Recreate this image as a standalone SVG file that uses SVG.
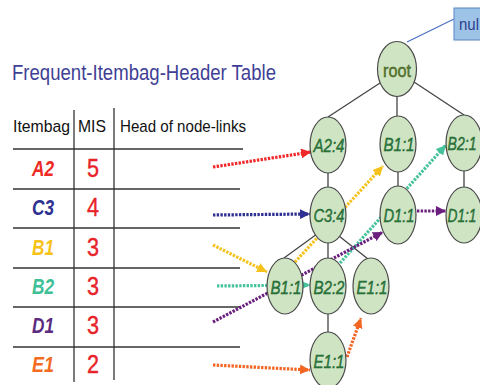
<svg xmlns="http://www.w3.org/2000/svg" width="480" height="385" viewBox="0 0 480 385">
  <style>
    .title { font-family: "Liberation Sans", Arial, sans-serif; font-size: 22px; fill: #3f3f96; }
    .hdr { font-family: "Liberation Sans", Arial, sans-serif; font-size: 17px; fill: #111; }
    .rule { stroke: #333; stroke-width: 1.3; }
    .item { font-family: "Liberation Sans", Arial, sans-serif; font-size: 22px; font-weight: bold; font-style: italic; text-anchor: middle; }
    .mis { font-family: "Liberation Sans", Arial, sans-serif; font-size: 25px; fill: #e8232a; text-anchor: middle; stroke: #e8232a; stroke-width: 0.4; }
    .node ellipse { fill: #cfe4c3; stroke: #4a4a4a; stroke-width: 1.2; }
    .node text { font-family: "Liberation Sans", Arial, sans-serif; font-size: 19px; font-style: italic; fill: #2a7a3c; stroke: #1b5a2c; stroke-width: 0.4; text-anchor: middle; }
    .edge { stroke: #444; stroke-width: 1.3; fill: none; }
    .link { stroke-width: 3.2; stroke-dasharray: 2.4 1.3; fill: none; }
  </style>
  <defs>
    <marker id="ah-red" viewBox="0 0 10 10" refX="10" refY="5" markerWidth="10" markerHeight="10" markerUnits="userSpaceOnUse" orient="auto"><path d="M0,0 L10,5 L0,10 z" fill="#f0282a"/></marker>
    <marker id="ah-blue" viewBox="0 0 10 10" refX="10" refY="5" markerWidth="10" markerHeight="10" markerUnits="userSpaceOnUse" orient="auto"><path d="M0,0 L10,5 L0,10 z" fill="#2e3192"/></marker>
    <marker id="ah-yellow" viewBox="0 0 10 10" refX="10" refY="5" markerWidth="10" markerHeight="10" markerUnits="userSpaceOnUse" orient="auto"><path d="M0,0 L10,5 L0,10 z" fill="#f5c21b"/></marker>
    <marker id="ah-teal" viewBox="0 0 10 10" refX="10" refY="5" markerWidth="10" markerHeight="10" markerUnits="userSpaceOnUse" orient="auto"><path d="M0,0 L10,5 L0,10 z" fill="#45c29b"/></marker>
    <marker id="ah-purple" viewBox="0 0 10 10" refX="10" refY="5" markerWidth="10" markerHeight="10" markerUnits="userSpaceOnUse" orient="auto"><path d="M0,0 L10,5 L0,10 z" fill="#6a1f7e"/></marker>
    <marker id="ah-orange" viewBox="0 0 10 10" refX="10" refY="5" markerWidth="10" markerHeight="10" markerUnits="userSpaceOnUse" orient="auto"><path d="M0,0 L10,5 L0,10 z" fill="#f26522"/></marker>
  </defs>

  <!-- header table -->
  <g id="header-table">
    <text class="title" x="12" y="80" textLength="264" lengthAdjust="spacingAndGlyphs">Frequent-Itembag-Header Table</text>
    <text class="hdr" x="13" y="132" textLength="57" lengthAdjust="spacingAndGlyphs">Itembag</text>
    <text class="hdr" x="78" y="132" textLength="28" lengthAdjust="spacingAndGlyphs">MIS</text>
    <text class="hdr" x="120" y="132" textLength="126" lengthAdjust="spacingAndGlyphs">Head of node-links</text>
    <line class="rule" x1="74" y1="110" x2="74" y2="382"/>
    <line class="rule" x1="114" y1="108" x2="114" y2="380"/>
    <line class="rule" x1="13" y1="149" x2="243" y2="149"/>
    <line class="rule" x1="13" y1="189" x2="240" y2="189"/>
    <line class="rule" x1="13" y1="228" x2="240" y2="228"/>
    <line class="rule" x1="13" y1="268" x2="240" y2="268"/>
    <line class="rule" x1="13" y1="307" x2="240" y2="307"/>
    <line class="rule" x1="13" y1="347" x2="240" y2="347"/>

    <text class="item" x="43" y="176" fill="#ee2a24" textLength="22" lengthAdjust="spacingAndGlyphs">A2</text>
    <text class="item" x="43" y="215" fill="#2e3192" textLength="22" lengthAdjust="spacingAndGlyphs">C3</text>
    <text class="item" x="43" y="255" fill="#f7c31a" textLength="22" lengthAdjust="spacingAndGlyphs">B1</text>
    <text class="item" x="43" y="294" fill="#3fbf96" textLength="22" lengthAdjust="spacingAndGlyphs">B2</text>
    <text class="item" x="43" y="333" fill="#5c2a7e" textLength="22" lengthAdjust="spacingAndGlyphs">D1</text>
    <text class="item" x="43" y="372" fill="#f36c21" textLength="22" lengthAdjust="spacingAndGlyphs">E1</text>

    <text class="mis" x="93" y="177" textLength="12" lengthAdjust="spacingAndGlyphs">5</text>
    <text class="mis" x="93" y="216" textLength="12" lengthAdjust="spacingAndGlyphs">4</text>
    <text class="mis" x="93" y="256" textLength="12" lengthAdjust="spacingAndGlyphs">3</text>
    <text class="mis" x="93" y="295" textLength="12" lengthAdjust="spacingAndGlyphs">3</text>
    <text class="mis" x="93" y="334" textLength="12" lengthAdjust="spacingAndGlyphs">3</text>
    <text class="mis" x="93" y="373" textLength="12" lengthAdjust="spacingAndGlyphs">2</text>
  </g>

  <!-- tree edges and node-links -->
  <g id="connectors">
    <line x1="407" y1="42" x2="454" y2="19" stroke="#4a6fc4" stroke-width="1.2"/>
    <line class="edge" x1="380" y1="83" x2="328" y2="117"/>
    <line class="edge" x1="397" y1="96" x2="397" y2="116"/>
    <line class="edge" x1="414" y1="82" x2="464" y2="115"/>
    <line class="edge" x1="328" y1="173" x2="328" y2="187"/>
    <line class="edge" x1="398" y1="172" x2="398" y2="187"/>
    <line class="edge" x1="464" y1="171" x2="464" y2="187"/>
    <line class="edge" x1="317" y1="234" x2="284" y2="258"/>
    <line class="edge" x1="328" y1="243" x2="328" y2="258"/>
    <line class="edge" x1="339" y1="236" x2="368" y2="259"/>
    <line class="edge" x1="328" y1="314" x2="328" y2="332"/>

    <line class="link" stroke="#f0282a" x1="213" y1="167" x2="311" y2="152" marker-end="url(#ah-red)"/>
    <line class="link" stroke="#2e3192" x1="213" y1="215" x2="310" y2="214" marker-end="url(#ah-blue)"/>
    <line class="link" stroke="#f5c21b" x1="213" y1="245" x2="267" y2="272" marker-end="url(#ah-yellow)"/>
    <line class="link" stroke="#f5c21b" x1="295" y1="262" x2="383" y2="166" marker-end="url(#ah-yellow)"/>
    <line class="link" stroke="#45c29b" x1="217" y1="286" x2="310" y2="285" marker-end="url(#ah-teal)"/>
    <line class="link" stroke="#45c29b" x1="340" y1="263" x2="446" y2="145" marker-end="url(#ah-teal)"/>
    <line class="link" stroke="#6a1f7e" x1="213" y1="322" x2="383" y2="232" marker-end="url(#ah-purple)"/>
    <line class="link" stroke="#6a1f7e" x1="417" y1="211" x2="446" y2="211" marker-end="url(#ah-purple)"/>
    <line class="link" stroke="#f26522" x1="213" y1="365" x2="310" y2="370" marker-end="url(#ah-orange)"/>
    <line class="link" stroke="#f26522" x1="347" y1="357" x2="361" y2="318" marker-end="url(#ah-orange)"/>
  </g>

  <g id="nul">
    <rect x="454" y="8" width="32" height="32" fill="#9dc3e6" stroke="#5b86c5" stroke-width="1"/>
    <text x="459" y="30" font-family="Liberation Sans, Arial, sans-serif" font-size="16" fill="#2f3e8f" textLength="20" lengthAdjust="spacingAndGlyphs">nul</text>
  </g>

  <g id="root" class="node">
    <ellipse cx="397" cy="69" rx="19.5" ry="27.5"/>
    <text x="397" y="77" style="font-style:normal;fill:#5a7a2a;stroke:#3d5a20;font-size:18px" textLength="28" lengthAdjust="spacingAndGlyphs">root</text>
  </g>
  <g id="n-a2" class="node">
    <ellipse cx="328" cy="145" rx="18" ry="28"/>
    <text x="329" y="152" textLength="31" lengthAdjust="spacingAndGlyphs">A2:4</text>
  </g>
  <g id="n-b1-top" class="node">
    <ellipse cx="398" cy="144" rx="18" ry="28"/>
    <text x="399" y="151" textLength="31" lengthAdjust="spacingAndGlyphs">B1:1</text>
  </g>
  <g id="n-b2-top" class="node">
    <ellipse cx="464" cy="143" rx="18" ry="28"/>
    <text x="462" y="150" textLength="29" lengthAdjust="spacingAndGlyphs">B2:1</text>
  </g>
  <g id="n-c3" class="node">
    <ellipse cx="328" cy="215" rx="18" ry="28"/>
    <text x="329" y="222" textLength="31" lengthAdjust="spacingAndGlyphs">C3:4</text>
  </g>
  <g id="n-d1-mid" class="node">
    <ellipse cx="398" cy="215" rx="18" ry="29"/>
    <text x="399" y="222" textLength="31" lengthAdjust="spacingAndGlyphs">D1:1</text>
  </g>
  <g id="n-d1-right" class="node">
    <ellipse cx="464" cy="215" rx="18" ry="28"/>
    <text x="462" y="222" textLength="29" lengthAdjust="spacingAndGlyphs">D1:1</text>
  </g>
  <g id="n-b1" class="node">
    <ellipse cx="285" cy="286" rx="18" ry="28"/>
    <text x="286" y="294" textLength="31" lengthAdjust="spacingAndGlyphs">B1:1</text>
  </g>
  <g id="n-b2" class="node">
    <ellipse cx="328" cy="286" rx="18" ry="28"/>
    <text x="329" y="294" textLength="31" lengthAdjust="spacingAndGlyphs">B2:2</text>
  </g>
  <g id="n-e1-mid" class="node">
    <ellipse cx="371" cy="286" rx="18" ry="28"/>
    <text x="372" y="294" textLength="31" lengthAdjust="spacingAndGlyphs">E1:1</text>
  </g>
  <g id="n-e1-low" class="node">
    <ellipse cx="328" cy="360" rx="18" ry="28"/>
    <text x="329" y="368" textLength="31" lengthAdjust="spacingAndGlyphs">E1:1</text>
  </g>
</svg>
